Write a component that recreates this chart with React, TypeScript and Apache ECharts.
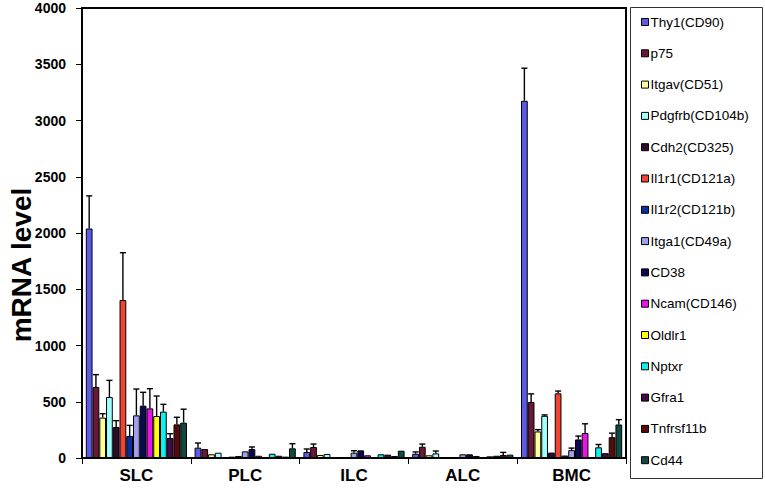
import React, { useEffect, useRef } from "react";
import * as echarts from "echarts";

const categories = ["SLC", "PLC", "ILC", "ALC", "BMC"];
const seriesNames = [
  "Thy1(CD90)", "p75", "Itgav(CD51)", "Pdgfrb(CD104b)", "Cdh2(CD325)",
  "Il1r1(CD121a)", "Il1r2(CD121b)", "Itga1(CD49a)", "CD38", "Ncam(CD146)",
  "Oldlr1", "Nptxr", "Gfra1", "Tnfrsf11b", "Cd44",
];
const seriesColors = [
  "#5B5BE8", "#6A1838", "#FFFF99", "#A0FFFF", "#2B0B2B",
  "#F24433", "#0A2E9E", "#A0A0F0", "#0A0A50", "#E814E8",
  "#FFFF10", "#10F0F0", "#440A48", "#560A0A", "#0E4A40",
];
// mean values per series, in the order of categories
const thy1 = [2040, 92, 53, 38, 3175];
const p75 = [631, 80, 98, 100, 498];
const itgav = [359, 33, 27, 24, 236];
const pdgfrb = [542, 47, 36, 41, 375];
const cdh2 = [276, 9, 5, 5, 48];
const il1r1 = [1404, 12, 3, 3, 575];
const il1r2 = [196, 18, 3, 3, 22];
const itga1 = [379, 59, 47, 33, 70];
const cd38 = [465, 80, 68, 33, 165];
const ncam = [441, 20, 24, 18, 222];
const oldlr1 = [373, 0, 0, 0, 0];
const nptxr = [412, 38, 33, 15, 95];
const gfra1 = [178, 20, 30, 20, 43];
const tnfrsf11b = [299, 12, 18, 27, 185];
const cd44 = [314, 86, 65, 30, 298];
// upper error bars
const thy1Err = [290, 41, 27, 16, 290];
const p75Err = [110, 0, 26, 24, 72];
const itgavErr = [35, 0, 0, 0, 16];
const pdgfrbErr = [148, 0, 0, 21, 8];
const cdh2Err = [56, 0, 0, 0, 0];
const il1r1Err = [421, 0, 0, 0, 20];
const il1r2Err = [94, 0, 0, 0, 0];
const itga1Err = [234, 0, 18, 0, 18];
const cd38Err = [119, 18, 0, 0, 30];
const ncamErr = [175, 0, 0, 0, 82];
const oldlr1Err = [178, 0, 0, 0, 0];
const nptxrErr = [65, 0, 0, 0, 25];
const gfra1Err = [38, 0, 0, 0, 0];
const tnfrsf11bErr = [63, 0, 0, 23, 36];
const cd44Err = [120, 41, 0, 0, 43];

const yTicks = [0, 500, 1000, 1500, 2000, 2500, 3000, 3500, 4000];

const values = [thy1, p75, itgav, pdgfrb, cdh2, il1r1, il1r2, itga1, cd38, ncam, oldlr1, nptxr, gfra1, tnfrsf11b, cd44];
const errors = [thy1Err, p75Err, itgavErr, pdgfrbErr, cdh2Err, il1r1Err, il1r2Err, itga1Err, cd38Err, ncamErr, oldlr1Err, nptxrErr, gfra1Err, tnfrsf11bErr, cd44Err];

const FONT = "'Liberation Sans', Arial, Helvetica, sans-serif";
const GAP = 0.07;

export default function App() {
  const ref = useRef<HTMLDivElement>(null);
  useEffect(() => {
    if (!ref.current) return;
    const chart = echarts.init(ref.current, undefined, { renderer: "svg" });
    const n = seriesNames.length;
    const errData: number[][] = [];
    errors.forEach((arr, si) => arr.forEach((e, ci) => {
      if (e > 0) errData.push([ci, si, values[si][ci], e]);
    }));
    const barSeries = seriesNames.map((name, i) => ({
      name,
      type: "bar",
      data: values[i],
      barGap: "0%",
      barCategoryGap: (GAP * 100) + "%",
      itemStyle: { color: seriesColors[i], borderColor: "#000", borderWidth: 1 },
      z: 2,
    }));
    const option: any = {
      animation: false,
      backgroundColor: "#fff",
      grid: { left: 82, top: 8, width: 544, height: 450, show: true, borderColor: "#000", borderWidth: 2 },
      xAxis: {
        type: "category",
        data: categories,
        axisLine: { lineStyle: { color: "#000", width: 2 } },
        axisTick: { show: true, length: 6, lineStyle: { color: "#000", width: 1 } },
        axisLabel: { color: "#000", fontSize: 17, fontWeight: "bold", fontFamily: FONT, margin: 9 },
      },
      yAxis: {
        type: "value",
        min: yTicks[0],
        max: yTicks[yTicks.length - 1],
        interval: 500,
        splitLine: { show: false },
        axisLine: { show: true, lineStyle: { color: "#000", width: 2 } },
        axisTick: { show: true, length: 6, lineStyle: { color: "#000", width: 1 } },
        axisLabel: { color: "#000", fontSize: 14, fontWeight: "bold", fontFamily: FONT, margin: 16, formatter: (v: number) => String(v) },
      },
      legend: {
        data: seriesNames,
        orient: "vertical",
        left: 636,
        top: 9,
        itemWidth: 7,
        itemHeight: 7,
        itemGap: 15.3,
        icon: "rect",
        itemStyle: { borderColor: "#000", borderWidth: 1 },
        textStyle: { color: "#000", fontSize: 13.5, fontFamily: FONT, lineHeight: 16, padding: [0, 0, 0, -3] },
        selectedMode: false,
      },
      graphic: [
        { type: "rect", shape: { x: 630.5, y: 7.5, width: 132, height: 471 }, style: { fill: "none", stroke: "#333", lineWidth: 1 }, z: 0 },
        {
          type: "text", x: 21, y: 265, rotation: Math.PI / 2,
          style: { text: "mRNA level", fill: "#000", font: `bold 28px ${FONT}`, textAlign: "center", textVerticalAlign: "middle" },
        },
      ],
      series: [
        ...barSeries,
        {
          type: "custom",
          z: 3,
          encode: { x: 0, y: 2 },
          data: errData,
          renderItem: (params: any, api: any) => {
            const ci = api.value(0), si = api.value(1), v = api.value(2), e = api.value(3);
            const band = api.size([1, 0])[0];
            const base = api.coord([ci, v]);
            const top = api.coord([ci, v + e]);
            const inner = band * (1 - GAP);
            const bw = inner / n;
            const x = base[0] - inner / 2 + bw * (si + 0.5);
            const st = { stroke: "#000", lineWidth: 1.4 };
            return {
              type: "group",
              children: [
                { type: "line", shape: { x1: x, y1: base[1], x2: x, y2: top[1] }, style: st },
                { type: "line", shape: { x1: x - bw * 0.45, y1: top[1], x2: x + bw * 0.45, y2: top[1] }, style: st },
              ],
            };
          },
        },
      ],
    };
    chart.setOption(option);
    return () => chart.dispose();
  }, []);
  return <div ref={ref} style={{ position: "fixed", left: 0, top: 0, width: 765, height: 491, background: "#fff" }} />;
}
